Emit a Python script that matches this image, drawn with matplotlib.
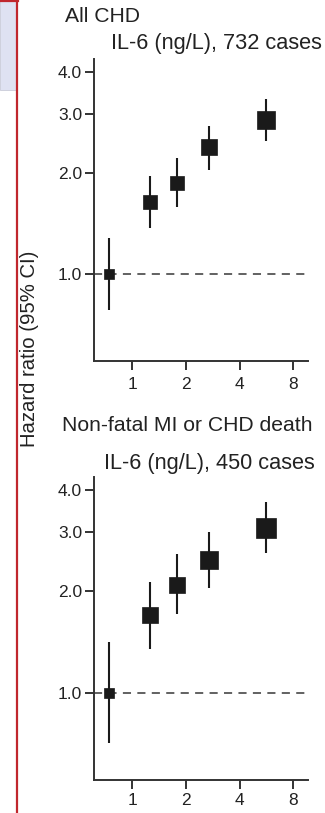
import matplotlib
matplotlib.use("Agg")
import matplotlib.pyplot as plt
from matplotlib.patches import Rectangle
from matplotlib.lines import Line2D
from matplotlib.ticker import FixedLocator, FixedFormatter, NullLocator

plt.rcParams['font.family'] = ['Liberation Sans', 'DejaVu Sans']

# ---------------- data ----------------
il6_levels = [0.74, 1.25, 1.78, 2.69, 5.6]          # mean IL-6 per group (ng/L)

chd_hr = [1.0, 1.64, 1.87, 2.38, 2.87]
chd_lo = [0.78, 1.37, 1.58, 2.04, 2.49]
chd_hi = [1.28, 1.96, 2.21, 2.76, 3.31]

mi_hr = [1.0, 1.70, 2.09, 2.47, 3.08]
mi_lo = [0.71, 1.35, 1.71, 2.04, 2.59]
mi_hi = [1.41, 2.13, 2.58, 2.99, 3.67]

panel_titles = ["All CHD", "Non-fatal MI or CHD death"]
panel_subtitles = ["IL-6 (ng/L), 732 cases", "IL-6 (ng/L), 450 cases"]
x_ticks = [1, 2, 4, 8]
x_ticklabels = ["1", "2", "4", "8"]
y_ticks = [1.0, 2.0, 3.0, 4.0]
y_ticklabels = ["1.0", "2.0", "3.0", "4.0"]
y_label = "Hazard ratio (95% CI)"

# ---------------- styles ----------------
marker_px = [[10, 15, 15, 16.7, 17.7], [10, 15.7, 16.7, 18, 20]]
W, H = 325, 813
fig = plt.figure(figsize=(W / 100, H / 100), dpi=100)

# decorations on the left
fig.patches.append(Rectangle((0, 1 - 90 / H), 16 / W, 90 / H, transform=fig.transFigure,
                             facecolor="#dfe2f2", edgecolor="#c9cbd8", lw=0.6, zorder=0))
fig.lines.append(Line2D([17 / W, 17 / W], [0, 1], transform=fig.transFigure,
                        color="#c0272d", lw=1.6))
fig.lines.append(Line2D([0, 18 / W], [1 - 1 / H, 1 - 1 / H], transform=fig.transFigure,
                        color="#c0272d", lw=1.6))

ink = "#1a1a1a"
axis_col = "#333333"
txt = "#222222"

def make_panel(top_px, bottom_px, hr, lo, hi, sizes, xpad):
    left_px, right_px = 94, 308
    ax = fig.add_axes([left_px / W, 1 - bottom_px / H, (right_px - left_px) / W,
                       (bottom_px - top_px) / H])
    ax.set_xscale("log", base=2)
    ax.set_yscale("log")
    ax.set_xlim(0.608, 9.68)
    ax.set_ylim(0.551, 4.36)
    ax.axhline(1.0, color="#555555", lw=1.3, ls=(0, (4.5, 3.5)), zorder=1)
    for x, h, l, u, s in zip(il6_levels, hr, lo, hi, sizes):
        ax.plot([x, x], [l, u], color=ink, lw=1.5, solid_capstyle="butt", zorder=2)
        ax.plot([x], [h], marker="s", ms=s * 0.72 - 0.5, color=ink, mec=ink, mew=0.5,
                zorder=3)
    for sp in ["top", "right"]:
        ax.spines[sp].set_visible(False)
    for sp in ["left", "bottom"]:
        ax.spines[sp].set_linewidth(1.4)
        ax.spines[sp].set_color(axis_col)
    ax.xaxis.set_major_locator(FixedLocator(x_ticks))
    ax.xaxis.set_major_formatter(FixedFormatter(x_ticklabels))
    ax.xaxis.set_minor_locator(NullLocator())
    ax.yaxis.set_major_locator(FixedLocator(y_ticks))
    ax.yaxis.set_major_formatter(FixedFormatter(y_ticklabels))
    ax.yaxis.set_minor_locator(NullLocator())
    ax.tick_params(axis="x", length=6.5, width=1.4, color=axis_col, labelsize=12.5,
                   labelcolor=txt, pad=xpad)
    ax.tick_params(axis="y", length=6.5, width=1.4, color=axis_col, labelsize=12.5,
                   labelcolor=txt, pad=2)
    ax.set_facecolor("none")
    return ax

make_panel(59, 361, chd_hr, chd_lo, chd_hi, marker_px[0], 5)
make_panel(477, 780, mi_hr, mi_lo, mi_hi, marker_px[1], 2.5)

fig.text(65 / W, 1 - 17 / H, panel_titles[0], ha="left", va="center", fontsize=15.2, color=txt)
fig.text(216 / W, 1 - 44 / H, panel_subtitles[0], ha="center", va="center", fontsize=15.7, color=txt)
fig.text(62 / W, 1 - 425 / H, panel_titles[1], ha="left", va="center", fontsize=15.2, color=txt)
fig.text(209 / W, 1 - 463 / H, panel_subtitles[1], ha="center", va="center", fontsize=15.7, color=txt)
fig.text(30 / W, 1 - 349 / H, y_label, rotation=90, ha="center", va="center", fontsize=14.6,
         color=txt)

fig.savefig("out.png", dpi=100)
